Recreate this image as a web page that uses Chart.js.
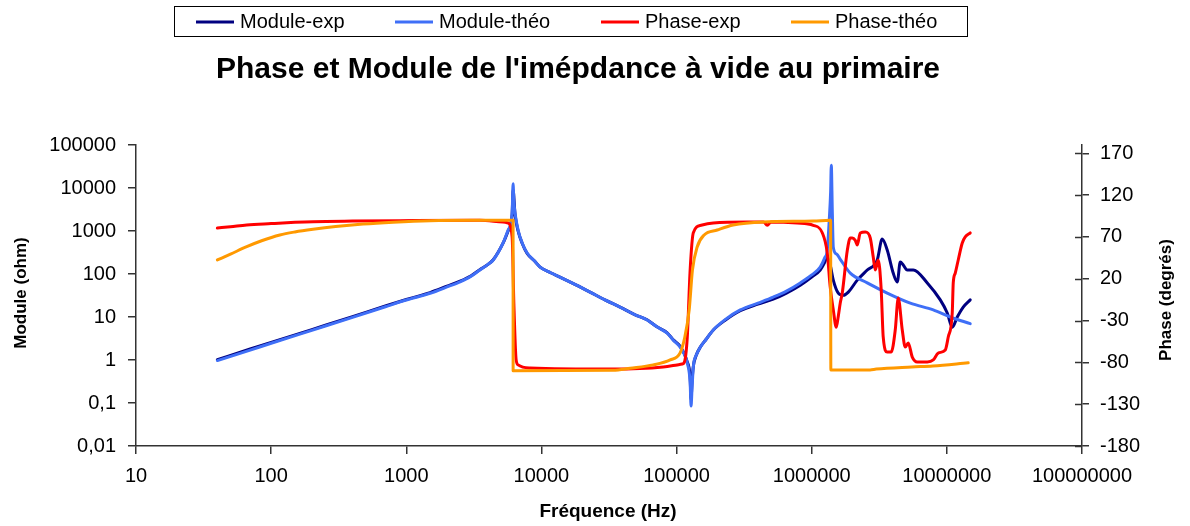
<!DOCTYPE html>
<html>
<head>
<meta charset="utf-8">
<script src="https://cdn.jsdelivr.net/npm/chart.js@4.4.1/dist/chart.umd.min.js"></script>
<style>
  html, body { margin: 0; padding: 0; background: #ffffff; }
  canvas { display: block; }
</style>
</head>
<body>
<canvas id="c" width="1190" height="526"></canvas>
<script>
// ---------- DATA ----------
const chartTitle = "Phase et Module de l'imépdance à vide au primaire";
const xAxisTitle = "Fréquence (Hz)";
const yLeftTitle = "Module (ohm)";
const yRightTitle = "Phase (degrés)";
const seriesNames = ["Module-exp", "Module-théo", "Phase-exp", "Phase-théo"];

const xTickValues = [10, 100, 1000, 10000, 100000, 1000000, 10000000, 100000000];
const xTickLabels = ["10", "100", "1000", "10000", "100000", "1000000", "10000000", "100000000"];
const yLeftTickValues = [0.01, 0.1, 1, 10, 100, 1000, 10000, 100000];
const yLeftTickLabels = ["0,01", "0,1", "1", "10", "100", "1000", "10000", "100000"];
const yRightTickValues = [-180, -130, -80, -30, 20, 70, 120, 170];

// Module-exp (ohm)
const modExpFreq = [40, 70, 100, 200, 400, 700, 1000, 1500, 2000, 2500, 3000, 3500, 4000, 4400, 5200, 5670, 6070, 6170, 6380, 6720, 7200, 7840, 8900, 9780, 11700, 13700, 18000, 22900, 29500, 38200, 49000, 60500, 71000, 85200, 95000, 106000, 120000, 126000, 128000, 130000, 133000, 140000, 150000, 165000, 187000, 230000, 296000, 400000, 519000, 650000, 823000, 1000000, 1156000, 1250000, 1303000, 1371000, 1444000, 1572000, 1713000, 1866000, 2173000, 2576000, 3054000, 3323000, 3620000, 4010000, 4295000, 4521000, 4757000, 5094000, 5642000, 7166000, 8939000, 10070000, 10960000, 11940000, 13220000, 14890000];
const modExpVal  = [1.02, 1.8, 2.55, 5.1, 10.2, 18, 25.5, 37, 52, 68, 90, 126, 165, 215, 520, 1000, 2400, 9000, 2400, 1000, 520, 300, 200, 145, 107, 85, 56, 38, 25, 17, 11.4, 8.6, 6.0, 4.3, 2.9, 2.1, 0.9, 0.4, 0.12, 0.3, 0.7, 1.3, 2.0, 3.0, 5.0, 8.5, 14, 20, 26, 36, 55, 85, 124, 190, 250, 160, 72, 36, 32, 38, 72, 124, 212, 650, 361, 105, 65, 190, 162, 124, 124, 62, 25, 12.4, 5.8, 10, 17, 25];

// Module-théo (ohm)
const modTheoFreq = [40, 70, 100, 200, 400, 700, 1000, 1500, 2000, 2500, 3000, 3500, 4000, 4400, 5200, 5670, 6070, 6170, 6250, 6380, 6720, 7200, 7840, 8900, 9780, 11700, 13700, 18000, 22900, 29500, 38200, 49000, 60500, 71000, 85200, 95000, 106000, 120000, 126000, 128000, 130000, 133000, 140000, 150000, 165000, 187000, 230000, 296000, 400000, 519000, 650000, 823000, 1000000, 1156000, 1250000, 1303000, 1348000, 1380000, 1396000, 1420000, 1444000, 1530000, 1626000, 1929000, 2576000, 3620000, 5362000, 7930000, 10600000, 14890000];
const modTheoVal  = [0.97, 1.7, 2.45, 4.9, 9.8, 17.3, 24.8, 35.6, 50, 66, 88, 124, 165, 212, 526, 1050, 2600, 12500, 5000, 2600, 1050, 526, 308, 200, 145, 107, 85, 56, 38, 25, 17, 11.4, 8.5, 6.0, 4.2, 2.85, 2.0, 0.85, 0.3, 0.085, 0.2, 0.69, 1.3, 2.0, 3.0, 5.0, 8.8, 14.6, 21, 29, 40, 62, 95, 145, 240, 360, 1800, 8000, 34000, 3000, 420, 290, 220, 105, 62, 36, 21, 14.6, 10, 7];

// Phase-exp (degrés)
const phaseExpFreq = [40, 50, 66, 100, 150, 204, 400, 900, 3500, 5200, 5670, 6070, 6250, 6500, 6720, 8250, 33900, 79600, 101000, 110000, 114000, 120000, 126000, 133000, 152000, 187000, 333000, 440000, 469000, 500000, 781000, 1026000, 1197000, 1303000, 1371000, 1444000, 1519000, 1572000, 1626000, 1683000, 1834000, 1929000, 1996000, 2100000, 2173000, 2287000, 2490000, 2711000, 2853000, 2952000, 3106000, 3268000, 3381000, 3620000, 3876000, 4150000, 4368000, 4678000, 4922000, 5182000, 5548000, 6041000, 7166000, 7930000, 8635000, 9733000, 10240000, 10960000, 11150000, 11540000, 12140000, 13000000, 13680000, 14890000];
const phaseExpVal  = [80.7, 82.2, 84.3, 86, 87.5, 88.3, 89, 89.5, 90, 88, 86.7, 70, -9, -77, -83, -86.7, -88, -85.5, -83, -82, -80, -50, 30.5, 75, 84, 86.7, 88, 88, 84, 88, 86.7, 84, 75, 51, 10, -17, -38, -25, -9, 3, 54, 68.8, 68.8, 66, 60.4, 74.8, 76, 68.8, 46, 30.5, 42.5, 6.6, -49.6, -67.6, -67.6, -41.3, -3, -41.3, -61.6, -56.8, -73.6, -79.5, -79.5, -77.1, -68.8, -65.2, -49.6, -20.9, 15, 26.9, 42.5, 62.8, 70, 74.8];

// Phase-théo (degrés)
const phaseTheoFreq = [40, 50, 66, 85, 116, 150, 204, 300, 479, 800, 1500, 3000, 6170, 6175, 33900, 45400, 67100, 89700, 106000, 115000, 124000, 131000, 142000, 160000, 200000, 262000, 438000, 1026000, 1380000, 1385000, 2700000, 3000000, 5500000, 7900000, 14390000];
const phaseTheoVal  = [42.5, 49.5, 58.4, 65.5, 72.4, 76, 79.2, 82.5, 85.5, 87.7, 89.5, 90, 90, -90, -89.5, -87, -83, -77, -69, -50, -17, 30, 58, 72.4, 78.3, 84.3, 88, 89, 90, -89, -89, -88, -85.5, -84.3, -80.5];

// ---------- STYLE ----------
const FONT = '"Liberation Sans", Arial, Helvetica, sans-serif';
const colors = ["#000080", "#3F6FF7", "#FF0000", "#FF9900"];
const axisColor = "#333333";

function pts(xs, ys) { return xs.map((x, i) => ({ x: x, y: ys[i] })); }

const legendLayout = { box: [174.5, 6.5, 793, 30], lineY: 22, textY: 28, sampleX: [196, 395, 601, 791], sampleW: 38, textGap: 6 };

const overlayPlugin = {
  id: 'overlay',
  afterDraw(chart) {
    const ctx = chart.ctx;
    ctx.save();
    ctx.strokeStyle = '#000';
    ctx.lineWidth = 1;
    const b = legendLayout.box;
    ctx.strokeRect(b[0], b[1], b[2], b[3]);
    chart.data.datasets.forEach((ds, i) => {
      const sx = legendLayout.sampleX[i];
      ctx.strokeStyle = ds.borderColor;
      ctx.lineWidth = 3;
      ctx.beginPath();
      ctx.moveTo(sx, legendLayout.lineY);
      ctx.lineTo(sx + legendLayout.sampleW, legendLayout.lineY);
      ctx.stroke();
      ctx.fillStyle = '#000';
      ctx.font = '20px ' + FONT;
      ctx.textAlign = 'left';
      ctx.textBaseline = 'alphabetic';
      ctx.fillText(ds.label, sx + legendLayout.sampleW + legendLayout.textGap, legendLayout.textY);
    });
    ctx.fillStyle = '#000';
    ctx.font = 'bold 30px ' + FONT;
    ctx.textAlign = 'center';
    ctx.textBaseline = 'alphabetic';
    ctx.fillText(chartTitle, 578, 78);
    ctx.font = 'bold 19px ' + FONT;
    ctx.fillText(xAxisTitle, 608, 517);
    ctx.font = 'bold 17px ' + FONT;
    ctx.textBaseline = 'middle';
    ctx.save();
    ctx.translate(21, 293);
    ctx.rotate(-Math.PI / 2);
    ctx.fillText(yLeftTitle, 0, 0);
    ctx.restore();
    ctx.save();
    ctx.translate(1166, 300);
    ctx.rotate(-Math.PI / 2);
    ctx.fillText(yRightTitle, 0, 0);
    ctx.restore();
    const r = chart.scales.y1;
    ctx.strokeStyle = axisColor;
    ctx.lineWidth = 1.5;
    r.ticks.forEach(t => {
      const y = Math.round(r.getPixelForValue(t.value)) + 0.5;
      ctx.beginPath();
      ctx.moveTo(r.left - 7, y);
      ctx.lineTo(r.left, y);
      ctx.stroke();
    });
    ctx.restore();
  }
};

const tickFont = { family: FONT, size: 20 };

new Chart(document.getElementById('c'), {
  type: 'line',
  data: {
    datasets: [
      { label: seriesNames[0], data: pts(modExpFreq, modExpVal), yAxisID: 'y', borderColor: colors[0], backgroundColor: colors[0], order: 3 },
      { label: seriesNames[1], data: pts(modTheoFreq, modTheoVal), yAxisID: 'y', borderColor: colors[1], backgroundColor: colors[1], order: 2 },
      { label: seriesNames[2], data: pts(phaseExpFreq, phaseExpVal), yAxisID: 'y1', borderColor: colors[2], backgroundColor: colors[2], order: 1 },
      { label: seriesNames[3], data: pts(phaseTheoFreq, phaseTheoVal), yAxisID: 'y1', borderColor: colors[3], backgroundColor: colors[3], order: 0 }
    ]
  },
  options: {
    responsive: false,
    animation: false,
    layout: { padding: { top: 145, left: 0, right: 0, bottom: 0 } },
    elements: {
      point: { radius: 0, hoverRadius: 0 },
      line: { cubicInterpolationMode: 'monotone', borderWidth: 3, fill: false, borderJoinStyle: 'round', borderCapStyle: 'round' }
    },
    plugins: { legend: { display: false }, title: { display: false }, tooltip: { enabled: false } },
    scales: {
      x: {
        type: 'logarithmic', position: 'bottom', min: 10, max: 100000000,
        afterBuildTicks: s => { s.ticks = xTickValues.map(v => ({ value: v })); },
        afterFit: s => { s.height = 80; },
        ticks: { callback: (v, i) => xTickLabels[i], font: tickFont, color: '#000', padding: 10, maxRotation: 0, autoSkip: false },
        grid: { drawOnChartArea: false, drawTicks: true, tickLength: 8, color: axisColor, lineWidth: 1.5 },
        border: { color: axisColor, width: 1.5 }
      },
      y: {
        type: 'logarithmic', position: 'left', min: 0.01, max: 100000,
        afterBuildTicks: s => { s.ticks = yLeftTickValues.map(v => ({ value: v })); },
        afterFit: s => { s.width = 136; },
        ticks: { callback: (v, i) => yLeftTickLabels[i], font: tickFont, color: '#000', padding: 12, autoSkip: false },
        grid: { drawOnChartArea: false, drawTicks: true, tickLength: 8, color: axisColor, lineWidth: 1.5 },
        border: { color: axisColor, width: 1.5 }
      },
      y1: {
        type: 'linear', position: 'right', min: -180, max: 180,
        afterBuildTicks: s => { s.ticks = yRightTickValues.map(v => ({ value: v })); },
        afterFit: s => { s.width = 108; },
        ticks: { callback: v => String(v), font: tickFont, color: '#000', padding: 11, autoSkip: false },
        grid: { drawOnChartArea: false, drawTicks: true, tickLength: 7, color: axisColor, lineWidth: 1.5 },
        border: { color: axisColor, width: 1.5 }
      }
    }
  },
  plugins: [overlayPlugin]
});
</script>
</body>
</html>
